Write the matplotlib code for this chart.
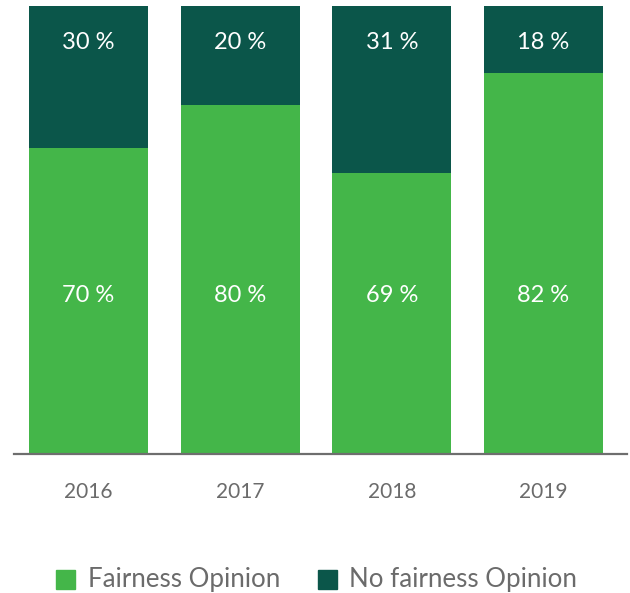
import matplotlib
matplotlib.use("Agg")
import matplotlib.pyplot as plt
from matplotlib.patches import Rectangle

# data
years = ["2016", "2017", "2018", "2019"]
fairness_share = [68.4, 77.9, 62.7, 85.0]      # bar heights as drawn
fairness_labels = [70, 80, 69, 82]
no_fairness_labels = [30, 20, 31, 18]

GREEN = "#44b649"
DARK = "#0b564a"
GREY = "#6b6b6b"
FONT = ["Lato", "DejaVu Sans"]

W, H = 630, 593
fig = plt.figure(figsize=(W / 100, H / 100), dpi=100)
ax = fig.add_axes([14 / W, (H - 454) / H, 613 / W, 448 / H])

x = list(range(len(years)))
no_fairness_share = [100 - v for v in fairness_share]
ax.bar(x, fairness_share, width=0.785, color=GREEN, zorder=2)
ax.bar(x, no_fairness_share, bottom=fairness_share, width=0.785, color=DARK, zorder=2)

ax.set_xlim(-0.491, 3.551)
ax.set_ylim(0, 100)
for side in ["top", "left", "right"]:
    ax.spines[side].set_visible(False)
ax.spines["bottom"].set_color("#6e6e6e")
ax.spines["bottom"].set_linewidth(1.6)
ax.spines["bottom"].set_zorder(3)
ax.set_xticks([])
ax.set_yticks([])

tr = ax.get_xaxis_transform()
for i, yr in enumerate(years):
    ax.text(i, 0.3527, f"{fairness_labels[i]} %", transform=tr, ha="center",
            va="center", color="white", fontsize=17, family=FONT)
    ax.text(i, 0.9196, f"{no_fairness_labels[i]} %", transform=tr, ha="center",
            va="center", color="white", fontsize=17, family=FONT)
    ax.text(i, -0.085, yr, transform=tr, ha="center", va="center",
            color=GREY, fontsize=15, family=FONT, clip_on=False)

# legend
leg_y = 579
for x0, color, label, tx in [(56, GREEN, "Fairness Opinion", 88),
                             (318, DARK, "No fairness Opinion", 349)]:
    fig.patches.append(Rectangle((x0 / W, (H - leg_y - 9.5) / H), 19 / W, 19 / H,
                                 transform=fig.transFigure, color=color))
    fig.text(tx / W, (H - leg_y) / H, label, ha="left", va="center",
             color=GREY, fontsize=18.6, family=FONT)

fig.savefig("out.png", dpi=100)
